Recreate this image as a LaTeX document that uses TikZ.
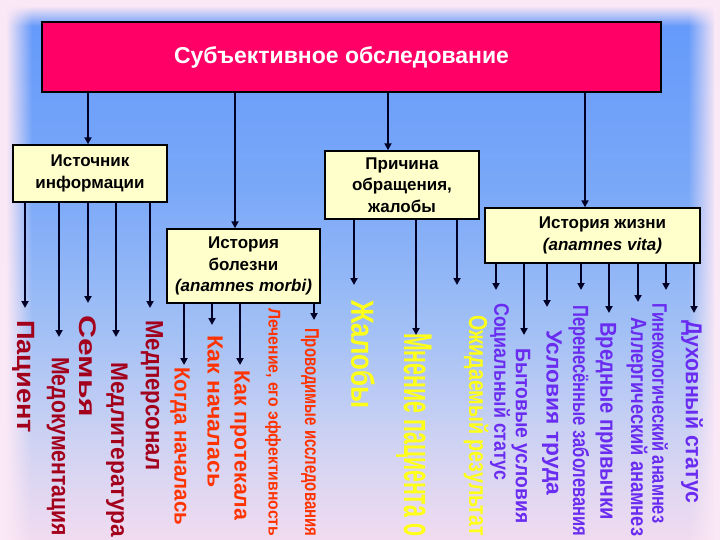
\documentclass[tikz,border=0pt]{standalone}
\usepackage{fontspec}
\setmainfont{Liberation Sans}
\usetikzlibrary{arrows.meta,fadings}
\definecolor{bgpink}{HTML}{FBE8F6}
\definecolor{bgblue}{HTML}{6399FB}
\definecolor{bgblue2}{HTML}{7AA8F8}
\definecolor{bgmid}{HTML}{A2C0F5}
\definecolor{bglav}{HTML}{CDD2F3}
\definecolor{bgbot}{HTML}{F3DCF0}
\definecolor{topred}{HTML}{FF0066}
\definecolor{boxyel}{HTML}{FFFFCC}
\definecolor{darkred}{HTML}{A3001C}
\definecolor{orred}{HTML}{FF3300}
\definecolor{yel}{HTML}{FFFF1A}
\definecolor{purp}{HTML}{6A2CF0}
\pgfdeclareverticalshading{bgsh}{100bp}{color(0bp)=(bgbot); color(25bp)=(bgbot); color(35bp)=(bglav); color(45bp)=(bgmid); color(58bp)=(bgblue2); color(75bp)=(bgblue); color(100bp)=(bgblue)}
\tikzfading[name=fadeR, left color=transparent!0, right color=transparent!100]
\tikzfading[name=fadeL, left color=transparent!100, right color=transparent!0]
\tikzfading[name=fadeD, top color=transparent!0, bottom color=transparent!100]
\newcommand{\vtext}[3]{\resizebox{#2pt}{\height}{\fontsize{#1}{#1}\selectfont\bfseries #3}}
\begin{document}
\begin{tikzpicture}[x=1pt,y=-1pt,
  lab/.style={rotate=-90, anchor=west, inner sep=0pt},
  box/.style={draw=black, line width=1.4pt, fill=boxyel, align=center,
    font=\fontsize{17}{21.5}\selectfont\bfseries, inner sep=0pt},
  arr/.style={line width=2.4pt, draw=black!85!blue, -{Triangle[length=7pt,width=7pt]}}]
\useasboundingbox (0,0) rectangle (720,540);
% background
\fill[bgpink] (0,0) rectangle (720,540);
\path[shading=bgsh] (6,6) rectangle (716,546);
\fill[bgpink, path fading=fadeR] (6,6) rectangle (32,546);
\fill[bgpink, path fading=fadeD] (6,6) rectangle (716,26);
\fill[bgpink, path fading=fadeL] (688,6) rectangle (716,546);
\fill[bgpink] (0,0) rectangle (6,540);
\fill[bgpink] (714,0) rectangle (720,540);
\fill[bgpink] (0,0) rectangle (720,6);

% boxes
\node[draw=black, line width=1.4pt, fill=topred, minimum width=619pt, minimum height=70pt,
  inner sep=0pt, font=\fontsize{23}{27}\selectfont\bfseries, text=white] (top) at (351.5,57)
  {\hspace*{-20pt}Субъективное обследование};
\node[box, minimum width=154pt, minimum height=57pt] (src) at (90,173.5) {Источник\\информации};
\node[box, minimum width=153pt, minimum height=74pt] (ib) at (243.5,266) {История\\болезни\\\itshape(anamnes morbi)};
\node[box, minimum width=154pt, minimum height=68pt] (pr) at (402,185) {Причина\\обращения,\\жалобы};
\node[box, minimum width=215pt, minimum height=55pt] (ij) at (592.5,235.5) {\hspace*{20pt}История жизни\\\hspace*{20pt}\itshape(anamnes vita)};

% labels: source of information
\node[lab, text=darkred] (pac) at (24,320) {\vtext{25}{113}{Пациент}};
\node[lab, text=darkred] (medd) at (58,357) {\vtext{25}{179}{Медокументация}};
\node[lab, text=darkred] (sem) at (88,315) {\vtext{24}{102}{Семья}};
\node[lab, text=darkred] (medl) at (117,362) {\vtext{24}{175}{Медлитература}};
\node[lab, text=darkred] (medp) at (152,320) {\vtext{25}{150}{Медперсонал}};
% history of disease
\node[lab, text=orred] (kogda) at (180,367) {\vtext{22}{158}{Когда началась}};
\node[lab, text=orred] (kakn) at (215,335) {\vtext{22}{152}{Как началась}};
\node[lab, text=orred] (kakp) at (240,370) {\vtext{22}{150}{Как протекала}};
\node[lab, text=orred] (lech) at (273,308) {\vtext{17}{228}{Лечение, его эффективность}};
\node[lab, text=orred] (prov) at (310,328) {\vtext{20}{208}{Проводимые исследования}};
% complaints
\node[lab, text=yel] (zhal) at (363,300) {\vtext{32}{108}{Жалобы}};
\node[lab, text=yel] (mnen) at (414,333) {\vtext{40}{203}{Мнение пациента о}};
\node[lab, text=yel] (ozh) at (476,315) {\vtext{26}{221}{Ожидаемый результат}};
% life history
\node[lab, text=purp] (soc) at (500,303) {\vtext{21}{177}{Социальный статус}};
\node[lab, text=purp] (byt) at (521,348) {\vtext{21}{175}{Бытовые условия}};
\node[lab, text=purp] (usl) at (552,330) {\vtext{22}{165}{Условия труда}};
\node[lab, text=purp] (per) at (579,305) {\vtext{22}{231}{Перенесённые заболевания}};
\node[lab, text=purp] (vred) at (606,322) {\vtext{23}{198}{Вредные привычки}};
\node[lab, text=purp] (allg) at (637,317) {\vtext{22}{219}{Аллергический анамнез}};
\node[lab, text=purp] (gin) at (660,303) {\vtext{21}{220}{Гинекологический анамнез}};
\node[lab, text=purp] (duh) at (692,320) {\vtext{23}{183}{Духовный статус}};

% connectors from top box
\draw[arr] (top.south -| 88,0) -- (88,0 |- src.north);
\draw[arr] (top.south -| 235,0) -- (235,0 |- ib.north);
\draw[arr] (top.south -| 388,0) -- (388,0 |- pr.north);
\draw[arr] (top.south -| 585,0) -- (585,0 |- ij.north);
% from source box
\draw[arr, shorten >=12pt] (src.south -| 25,0) -- (25,0 |- pac.west);
\draw[arr, shorten >=20pt] (src.south -| 59,0) -- (59,0 |- medd.west);
\draw[arr, shorten >=12pt] (src.south -| 88,0) -- (88,0 |- sem.west);
\draw[arr, shorten >=25pt] (src.south -| 116,0) -- (116,0 |- medl.west);
\draw[arr, shorten >=12pt] (src.south -| 150,0) -- (150,0 |- medp.west);
% from history of disease
\draw[arr, shorten >=2pt] (ib.south -| 184,0) -- (184,0 |- kogda.west);
\draw[arr, shorten >=10pt] (ib.south -| 212,0) -- (212,0 |- kakn.west);
\draw[arr, shorten >=5pt] (ib.south -| 240,0) -- (240,0 |- kakp.west);
\draw[arr, shorten >=8pt] (ib.south -| 314,0) -- (314,0 |- prov.west);
% from complaints
\draw[arr, shorten >=15pt] (pr.south -| 354,0) -- (354,0 |- zhal.west);
\draw[arr, shorten >=-2pt] (pr.south -| 416,0) -- (416,0 |- mnen.west);
\draw[arr, shorten >=30pt] (pr.south -| 457,0) -- (457,0 |- ozh.west);
% from life history
\draw[arr, shorten >=13pt] (ij.south -| 496,0) -- (496,0 |- soc.west);
\draw[arr, shorten >=13pt] (ij.south -| 524,0) -- (524,0 |- byt.west);
\draw[arr, shorten >=23pt] (ij.south -| 547,0) -- (547,0 |- usl.west);
\draw[arr, shorten >=15pt] (ij.south -| 581,0) -- (581,0 |- per.west);
\draw[arr, shorten >=9pt] (ij.south -| 609,0) -- (609,0 |- vred.west);
\draw[arr, shorten >=15pt] (ij.south -| 638,0) -- (638,0 |- allg.west);
\draw[arr, shorten >=13pt] (ij.south -| 666,0) -- (666,0 |- gin.west);
\draw[arr, shorten >=7pt] (ij.south -| 694,0) -- (694,0 |- duh.west);
\end{tikzpicture}
\end{document}
